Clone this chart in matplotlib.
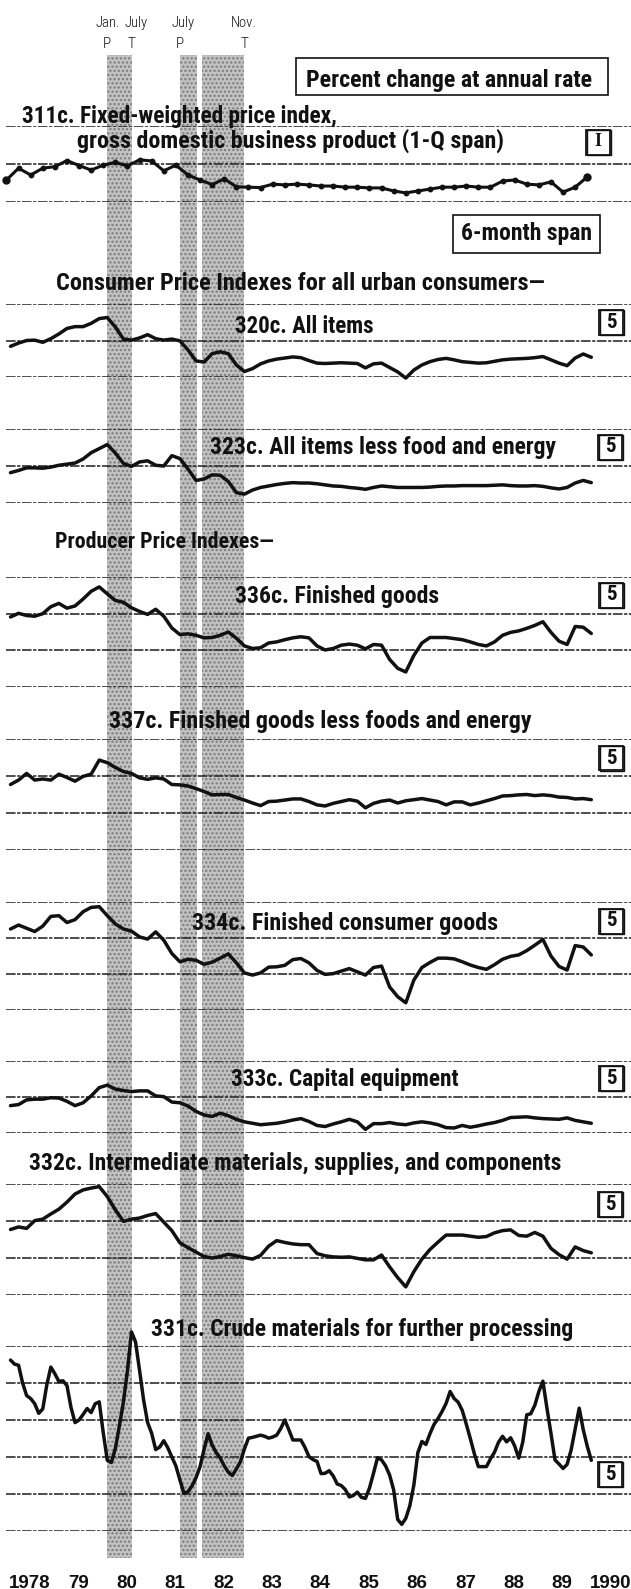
import numpy as np
import matplotlib
matplotlib.use("Agg")
import matplotlib.pyplot as plt
from matplotlib import font_manager as fm
from matplotlib.patches import Rectangle

W, H = 631, 1589


def pick_narrow_font():
    # prefer a condensed sans for the headings, fall back to the narrowest plain one
    names = {f.name for f in fm.fontManager.ttflist}
    for name in ["Liberation Sans Narrow", "Roboto Condensed", "Open Sans Condensed",
                 "Noto Sans Condensed", "DejaVu Sans Condensed", "Arial Narrow"]:
        if name in names:
            return name, "normal"
    for f in fm.fontManager.ttflist:
        if f.stretch in ("condensed", "semi-condensed", "extra-condensed") and \
                f.name in ("Noto Sans", "DejaVu Sans", "Open Sans", "Roboto"):
            return f.name, f.stretch
    for name in ["Roboto", "Lato", "Liberation Sans"]:
        if name in names:
            return name, "normal"
    return "DejaVu Sans", "normal"


NARROW_NAME, NARROW_STRETCH = pick_narrow_font()
NARROW = [NARROW_NAME, "DejaVu Sans"]
plt.rcParams["font.family"] = NARROW
plt.rcParams["font.stretch"] = NARROW_STRETCH
plt.rcParams["hatch.linewidth"] = 1.1
plt.rcParams["hatch.color"] = "#7c7c7c"

# business cycle turning points
turn_dates = [1980 + 0 / 12, 1980 + 6 / 12, 1981 + 6 / 12, 1982 + 10 / 12]
turn_months = ["Jan.", "July", "July", "Nov."]
turn_types = ["P", "T", "P", "T"]
month_nudge_px = [0, 5, 3, -1]

year_ticks = np.arange(1978, 1991)
year_labels = ["1978", "79", "80", "81", "82", "83", "84", "85", "86", "87", "88", "89", "1990"]

# observation dates (fractional years)
quarter_dates = 1977 + 11 / 12 + 0.25 * np.arange(49)
month_dates = 1978 + np.arange(145) / 12
bimonth_dates = month_dates[::2]

# percent change at annual rate
gdp_311c = [5.8, 8.9, 7.1, 8.9, 9.3, 10.9, 9.6, 8.4, 9.7, 10.4,
            9.5, 11.1, 10.8, 8.2, 9.7, 7.1, 5.8, 4.6, 6.1, 4.0,
            3.9, 3.8, 4.7, 4.5, 4.7, 4.5, 4.2, 4.2, 3.9, 3.9,
            3.7, 3.7, 2.9, 2.4, 2.9, 3.4, 3.9, 3.9, 4.2, 3.9,
            3.9, 5.5, 5.8, 4.7, 4.5, 5.3, 2.6, 3.9, 6.6]

cpi_320c = [8.4, 9.3, 10.0, 10.1, 9.5, 10.5, 11.8, 13.3, 13.8, 13.8,
            14.7, 16.0, 16.3, 13.7, 10.4, 10.1, 10.7, 11.6, 10.5, 10.1,
            10.4, 9.9, 7.4, 4.4, 4.1, 6.4, 6.9, 6.4, 3.3, 1.5,
            2.3, 3.6, 4.4, 4.9, 5.2, 5.5, 5.3, 4.5, 3.8, 3.7,
            3.8, 3.9, 3.8, 3.7, 2.5, 3.6, 3.8, 2.6, 1.4, -0.3,
            1.9, 3.3, 4.2, 4.8, 5.1, 4.7, 4.2, 4.0, 3.8, 3.9,
            4.3, 4.7, 4.9, 5.0, 5.1, 5.3, 5.6, 4.7, 3.8, 3.1,
            5.2, 6.3, 5.4]

cpi_core_323c = [8.2, 8.8, 9.5, 9.5, 9.4, 9.7, 10.2, 10.5, 10.8, 11.9,
                 13.6, 14.7, 15.8, 13.5, 10.7, 9.9, 11.1, 11.4, 10.2, 10.0,
                 12.8, 12.0, 9.2, 6.1, 6.5, 7.6, 7.5, 5.8, 2.8, 2.4,
                 3.5, 4.2, 4.6, 5.0, 5.3, 5.5, 5.4, 5.4, 5.2, 4.9,
                 4.6, 4.5, 4.2, 4.0, 3.7, 4.2, 4.6, 4.4, 4.2, 4.2,
                 4.2, 4.2, 4.3, 4.5, 4.6, 4.6, 4.7, 4.7, 4.7, 4.7,
                 4.8, 4.9, 4.7, 4.6, 4.6, 4.7, 4.5, 4.1, 3.8, 4.2,
                 5.4, 6.1, 5.5]

ppi_fin_336c = [9.1, 10.1, 9.5, 9.3, 10.0, 11.9, 12.8, 11.5, 12.1, 14.0,
                16.1, 17.3, 15.4, 13.6, 13.1, 11.6, 10.6, 9.8, 11.2, 9.3,
                6.1, 4.3, 4.5, 4.1, 3.4, 3.5, 4.1, 5.0, 3.3, 1.2,
                0.5, 0.7, 2.0, 2.3, 2.9, 3.4, 3.7, 3.4, 1.2, 0.1,
                0.5, 1.4, 1.7, 1.4, 0.4, 1.6, 1.4, -2.5, -4.9, -5.9,
                -1.4, 2.0, 3.5, 3.5, 3.5, 3.2, 2.9, 2.3, 1.6, 1.2,
                2.3, 4.1, 4.9, 5.3, 6.0, 6.8, 7.8, 4.9, 2.5, 1.6,
                6.5, 6.3, 4.6]

ppi_core_337c = [7.7, 8.9, 10.7, 8.9, 9.2, 8.9, 10.5, 9.6, 8.6, 9.9,
                 10.5, 14.3, 13.6, 12.3, 11.2, 10.7, 9.5, 9.1, 9.5, 9.2,
                 7.7, 7.6, 7.3, 6.6, 5.8, 4.9, 5.0, 5.0, 4.2, 3.5,
                 2.7, 2.0, 3.1, 3.2, 3.5, 3.8, 3.8, 3.1, 2.2, 1.9,
                 2.6, 3.1, 3.6, 3.2, 1.4, 2.6, 3.2, 3.5, 2.7, 3.3,
                 3.6, 3.9, 3.5, 3.1, 2.2, 3.0, 3.0, 2.2, 2.7, 3.3,
                 3.9, 4.6, 4.7, 4.9, 5.0, 4.7, 4.9, 4.7, 4.3, 4.2,
                 3.8, 3.9, 3.6]

ppi_cons_334c = [12.5, 13.6, 12.7, 11.8, 13.3, 16.0, 16.2, 14.3, 15.1, 17.3,
                 18.5, 18.7, 16.2, 13.9, 12.5, 11.9, 10.3, 9.7, 11.7, 9.4,
                 5.7, 3.4, 4.1, 3.8, 2.7, 3.3, 4.4, 5.6, 3.1, 0.3,
                 -0.3, 0.3, 1.9, 2.0, 2.4, 4.0, 4.3, 3.1, 1.0, -0.1,
                 0.1, 0.8, 1.5, 0.6, -0.3, 1.8, 2.2, -3.6, -6.3, -8.0,
                 -1.7, 1.8, 3.2, 4.4, 4.4, 4.2, 3.4, 2.5, 1.8, 1.3,
                 2.6, 4.1, 4.9, 5.3, 6.5, 8.0, 9.6, 5.0, 2.1, 1.1,
                 7.9, 7.5, 5.3]

ppi_cap_333c = [7.6, 7.9, 9.2, 9.4, 9.4, 9.8, 9.7, 8.8, 7.6, 8.4,
                10.3, 12.6, 13.3, 12.2, 11.8, 11.5, 11.7, 11.7, 10.3, 10.1,
                8.6, 8.4, 7.5, 6.0, 5.0, 4.6, 5.5, 4.8, 3.8, 3.1,
                2.7, 2.3, 2.5, 2.7, 3.1, 3.6, 4.0, 3.2, 2.1, 1.8,
                2.5, 3.1, 3.8, 3.1, 1.0, 2.6, 2.6, 2.9, 2.5, 2.3,
                2.8, 3.1, 2.8, 2.3, 1.5, 1.4, 2.1, 1.6, 2.0, 2.5,
                2.9, 3.5, 4.3, 4.4, 4.5, 4.2, 4.0, 3.9, 3.8, 4.2,
                3.5, 3.1, 2.7]

ppi_int_332c = [7.7, 8.4, 8.0, 10.1, 10.5, 11.9, 13.2, 15.1, 17.3, 18.4,
                18.9, 19.3, 16.6, 13.0, 9.9, 10.5, 10.8, 11.5, 12.0, 9.7,
                7.4, 4.1, 2.8, 1.6, 0.4, 0.0, 0.4, 1.0, 0.6, 0.1,
                -0.3, 0.7, 3.2, 4.7, 4.2, 3.8, 3.6, 3.6, 1.2, 0.6,
                0.3, 0.2, 0.3, -0.1, -0.5, -0.5, 0.8, -2.4, -5.3, -7.8,
                -3.7, -0.3, 2.3, 4.3, 6.2, 6.2, 6.2, 5.9, 5.6, 5.8,
                6.8, 7.4, 7.6, 6.1, 5.9, 6.9, 5.9, 2.6, 0.9, -0.3,
                3.0, 2.0, 1.4]

ppi_crude_331c = [26.2, 25.1, 24.8, 20.0, 16.6, 15.8, 14.4, 11.8, 13.0, 19.5,
                  24.3, 22.5, 20.4, 20.6, 19.3, 13.4, 9.3, 10.0, 11.5, 13.1,
                  12.0, 14.4, 14.9, 6.5, -0.9, -1.5, 2.3, 8.4, 14.9, 23.4,
                  33.8, 31.1, 23.4, 15.4, 9.3, 6.4, 2.0, 2.7, 4.4, 2.5,
                  0.0, -2.4, -6.2, -9.8, -9.4, -7.8, -5.6, -2.6, 2.1, 6.3,
                  3.2, 1.2, -0.3, -2.4, -4.1, -5.0, -3.2, -1.3, 2.2, 5.1,
                  5.3, 5.6, 5.9, 5.6, 5.1, 5.4, 5.9, 7.7, 10.0, 7.4,
                  4.6, 4.6, 4.6, 2.6, 0.1, -0.7, -1.2, -4.5, -4.4, -3.7,
                  -5.1, -7.3, -7.7, -8.8, -10.8, -10.4, -9.5, -10.9, -11.2, -8.4,
                  -4.4, -0.2, -0.8, -2.4, -4.9, -8.9, -16.9, -18.2, -16.6, -13.2,
                  -7.6, 1.2, 4.2, 3.4, 6.3, 8.8, 10.4, 12.3, 14.5, 17.7,
                  15.8, 14.8, 12.6, 8.9, 5.0, 0.9, -2.6, -2.6, -2.6, -0.5,
                  1.3, 4.0, 5.6, 4.1, 5.2, 3.0, -0.3, 4.0, 11.4, 11.7,
                  14.0, 17.7, 20.5, 13.2, 6.4, -0.8, -1.9, -3.1, -2.0, 1.9,
                  7.5, 13.2, 7.4, 2.9, -0.9]

# horizontal placement: pixel column of 1978.0 and pixels per year
X0_PX, PX_PER_YEAR = 10.5, 48.4
XLIM = (1978 - X0_PX / PX_PER_YEAR, 1978 + (W - X0_PX) / PX_PER_YEAR)

# (series, dates, top rule px, bottom rule px, top value, bottom value, box label, box centre px)
panels = [
    (gdp_311c, quarter_dates, 126, 202, 20, 0, "I", (598, 142)),
    (cpi_320c, bimonth_dates, 304, 377, 20, 0, "5", (611, 322)),
    (cpi_core_323c, bimonth_dates, 429, 503, 20, 0, "5", (610, 447)),
    (ppi_fin_336c, bimonth_dates, 577, 687, 20, -10, "5", (611, 595)),
    (ppi_core_337c, bimonth_dates, 739, 850, 20, -10, "5", (611, 758)),
    (ppi_cons_334c, bimonth_dates, 902, 1010, 20, -10, "5", (611, 921)),
    (ppi_cap_333c, bimonth_dates, 1061, 1133, 20, 0, "5", (611, 1078)),
    (ppi_int_332c, bimonth_dates, 1184, 1295, 20, -10, "5", (610, 1204)),
    (ppi_crude_331c, month_dates, 1346, 1531, 30, -20, "5", (610, 1474)),
]

# (text, left px, right px, baseline px)
titles = [
    ("311c. Fixed-weighted price index,", 22, 338, 123),
    ("gross domestic business product (1-Q span)", 77, 503, 148),
    ("Consumer Price Indexes for all urban consumers\u2014", 56, 545, 290),
    ("320c. All items", 235, 374, 333),
    ("323c. All items less food and energy", 210, 557, 454),
    ("Producer Price Indexes\u2014", 55, 274, 548),
    ("336c. Finished goods", 235, 439, 603),
    ("337c. Finished goods less foods and energy", 109, 531, 728),
    ("334c. Finished consumer goods", 192, 498, 930),
    ("333c. Capital equipment", 231, 459, 1086),
    ("332c. Intermediate materials, supplies, and components", 29, 561, 1170),
    ("331c. Crude materials for further processing", 151, 573, 1336),
]

INK = "#111111"
fig = plt.figure(figsize=(W / 100, H / 100), dpi=100)
fig.patch.set_facecolor("white")
renderer = fig.canvas.get_renderer()


def fx(px):
    return px / W


def fy(py):
    return 1 - py / H


def fitted_text(s, x0, x1, base, **kw):
    t = fig.text(fx(x0), fy(base), s, fontsize=15, fontweight=900,
                 va="baseline", ha="left", color=INK, **kw)
    w = t.get_window_extent(renderer).width
    t.set_fontsize(15 * (x1 - x0) / w)
    return t


# background: recession shading, turning point labels, years
bg = fig.add_axes([0, 0, 1, 1], zorder=0)
bg.set_xlim(XLIM)
bg.set_ylim(H, 0)
bg.axis("off")
for start, end in zip(turn_dates[0::2], turn_dates[1::2]):
    bg.axvspan(start, end, ymin=1 - 1558 / H, ymax=1 - 55 / H,
               facecolor="#c2c2c2", edgecolor="#7c7c7c", hatch="....", lw=0)
bg.axvspan(1981.855, 1981.955, ymin=1 - 1558 / H, ymax=1 - 55 / H,
           facecolor="white", lw=0)

for d, mo, tp, nudge in zip(turn_dates, turn_months, turn_types, month_nudge_px):
    bg.text(d + nudge / PX_PER_YEAR, 23, mo, ha="center", va="center",
            fontsize=10.5, color=INK, fontweight="light")
    bg.text(d, 44, tp, ha="center", va="center", fontsize=11, color=INK,
            fontweight="light")

for yr, lab in zip(year_ticks, year_labels):
    bg.text(yr + 0.4, 1575, lab, ha="center", va="top", fontsize=13.5,
            fontweight="bold", color=INK, family=["Liberation Sans", "DejaVu Sans"],
            stretch="normal")

# one strip of rules and a series per indicator
for vals, dates, top, bot, vtop, vbot, box, (bx, by) in panels:
    ax = fig.add_axes([0, fy(bot), 1, (bot - top) / H], zorder=1)
    ax.set_xlim(XLIM)
    ax.set_ylim(vbot, vtop)
    ax.axis("off")
    for v in np.arange(vbot, vtop + 1, 10):
        ax.axhline(v, xmin=6 / W, xmax=1, color="#262626", lw=1.15,
                   ls=(0, (6, 1, 2, 1)), zorder=1)
    vals = np.asarray(vals)
    if dates is quarter_dates:
        ax.plot(dates, vals, color=INK, lw=2.2, marker="o", ms=3.2,
                zorder=3, clip_on=False)
        ax.plot(dates[[0, -1]], vals[[0, -1]], "o", color=INK, ms=5,
                zorder=3, clip_on=False)
    else:
        ax.plot(dates, vals, color=INK, lw=2.5, zorder=3, clip_on=False,
                solid_joinstyle="round", solid_capstyle="round")

    # small boxed code, with a heavier right and lower edge
    fig.add_artist(Rectangle((fx(bx - 12), fy(by + 12.5)), 24 / W, 25 / H,
                             transform=fig.transFigure, fill=False,
                             lw=1.3, edgecolor=INK))
    fig.add_artist(Rectangle((fx(bx - 11), fy(by + 13.3)), 24 / W, 25 / H,
                             transform=fig.transFigure, fill=False,
                             lw=1.0, edgecolor=INK))
    if box == "I":
        fig.text(fx(bx), fy(by), box, ha="center", va="center", fontsize=13,
                 fontweight="bold", color=INK,
                 family=["Liberation Serif", "DejaVu Serif"], stretch="normal")
    else:
        fig.text(fx(bx), fy(by), box, ha="center", va="center", fontsize=15,
                 fontweight="bold", color=INK)

for s, x0, x1, base in titles:
    fitted_text(s, x0, x1, base)

# framed unit notes
for s, (l, t, r, b), (x0, x1, base) in [
        ("Percent change at annual rate", (296, 58, 608, 95), (306, 592, 87)),
        ("6-month span", (453, 215, 600, 253), (461, 592, 240))]:
    fig.add_artist(Rectangle((fx(l), fy(b)), (r - l) / W, (b - t) / H,
                             transform=fig.transFigure, fill=False,
                             lw=1.2, edgecolor=INK))
    fitted_text(s, x0, x1, base)

fig.savefig("out.png", dpi=100)
